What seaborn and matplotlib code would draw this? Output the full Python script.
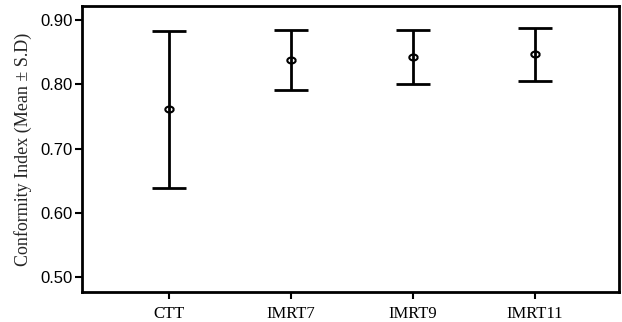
import matplotlib
matplotlib.use("Agg")
import matplotlib.pyplot as plt
import seaborn as sns
import pandas as pd
import numpy as np

groups = ["CTT", "IMRT7", "IMRT9", "IMRT11"]
means = [0.761, 0.838, 0.842, 0.847]
sds = [0.122, 0.046, 0.042, 0.041]
yticks = [0.50, 0.60, 0.70, 0.80, 0.90]

df = pd.DataFrame({"group": groups, "mean": means, "sd": sds})

sns.set_theme(style="white")
fig = plt.figure(figsize=(6.22, 3.22), dpi=100)
ax = fig.add_axes([82/622, 30/322, 537/622, 286/322])

ellipse = np.array([[np.cos(t) * 1.4, np.sin(t)] for t in np.linspace(0, 2 * np.pi, 40)])
sns.pointplot(data=df, x="group", y="mean", order=groups, linestyle="none",
              errorbar=None, markers=ellipse, color="black", ax=ax,
              markersize=6, markerfacecolor="none", markeredgewidth=1.5)
ax.errorbar(np.arange(len(groups)), df["mean"], yerr=df["sd"], fmt="none",
            ecolor="black", elinewidth=2, capsize=12.5, capthick=2, zorder=1)

ax.set_xlim(-0.713, 3.69)
ax.set_ylim(0.477, 0.922)
ax.set_yticks(yticks)
ax.set_yticklabels([f"{v:.2f}" for v in yticks], fontsize=12, family="Liberation Sans")
ax.set_xticks(range(len(groups)))
ax.set_xticklabels(groups, fontsize=12, family="Liberation Serif")
ax.set_xlabel("")
ax.set_ylabel("Conformity Index (Mean \u00b1 S.D)", fontsize=13, family="Liberation Serif", labelpad=6)
ax.tick_params(axis="both", direction="out", length=5, width=1.5, colors="black", bottom=True, left=True, pad=2)
ax.tick_params(axis="x", pad=5)
for s in ax.spines.values():
    s.set_linewidth(2)
    s.set_color("black")
fig.savefig("out.png", dpi=100, facecolor="white")
